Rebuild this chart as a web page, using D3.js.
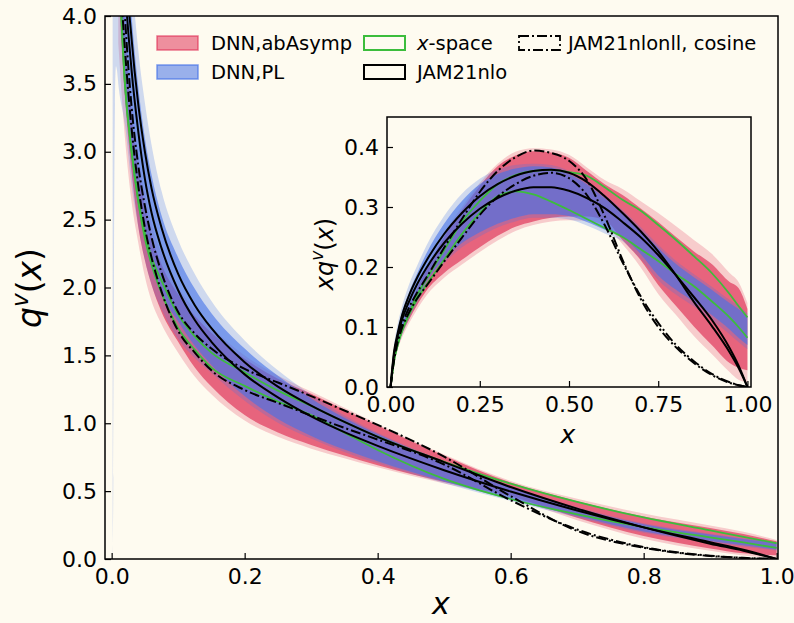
<!DOCTYPE html>
<html><head><meta charset="utf-8">
<script src="https://cdn.jsdelivr.net/npm/d3@7"></script>
<style>body{margin:0;background:#fefbf0}svg{display:block}text{font-family:"DejaVu Sans",sans-serif;fill:#000}</style>
</head><body><svg id="c" width="794" height="623"></svg>
<script>
// ---------------- main panel data: q^v(x) ----------------
const XM = [0.01,0.02,0.03,0.04,0.05,0.06,0.075,0.1,0.125,0.15,0.2,0.25,0.3,0.35,0.4,0.5,0.6,0.7,0.8,0.9,0.95,1.0];
const mRedPaleLo = [3.8,3.1,2.63,2.33,2.08,1.9,1.73,1.52,1.344,1.213,1.02,0.9,0.813,0.743,0.675,0.556,0.45,0.286,0.15,0.061,0.026,0.008];
const mRedPaleHi = [5.4,4.1,3.4,2.98,2.7,2.47,2.25,2.0,1.84,1.707,1.5,1.352,1.233,1.114,0.995,0.77,0.575,0.443,0.335,0.247,0.2,0.14];
const mRedLo = [4.2,3.4,2.85,2.45,2.2,2.02,1.82,1.6,1.41,1.27,1.06,0.932,0.84,0.763,0.69,0.568,0.463,0.303,0.169,0.078,0.042,0.028];
const mRedHi = [5.0,3.9,3.27,2.875,2.6,2.38,2.17,1.95,1.79,1.667,1.475,1.328,1.217,1.1,0.983,0.76,0.563,0.426,0.3125,0.228,0.184,0.13];
const mBlueLo = [4.4,3.5,2.95,2.6,2.35,2.15,1.95,1.75,1.57,1.43,1.2,1.032,0.907,0.806,0.72,0.57,0.437,0.317,0.203,0.133,0.101,0.07];
const mBlueHi = [6.2,4.75,4.0,3.48,3.1,2.83,2.53,2.22,1.99,1.81,1.55,1.35,1.183,1.04,0.92,0.71,0.525,0.374,0.256,0.18,0.147,0.118];
const mGreen1 = [4.5,3.5,3.0,2.65,2.4,2.22,2.05,1.8,1.64,1.52,1.375,1.24,1.127,1.009,0.9,0.716,0.555,0.42,0.306,0.211,0.163,0.116];
const mGreen2 = [4.5,3.5,3.0,2.63,2.36,2.17,1.96,1.7,1.54,1.41,1.275,1.16,1.06,0.931,0.803,0.59,0.442,0.329,0.235,0.159,0.122,0.082];
const mJam1 = [6.0,4.5,3.83,3.35,3.0,2.73,2.44,2.1,1.87,1.70,1.45,1.27,1.13,1.01,0.90,0.714,0.53,0.371,0.233,0.113,0.061,0.0];
const mJam2 = [5.5,4.25,3.6,3.15,2.8,2.55,2.29,1.98,1.76,1.6,1.36,1.19,1.05,0.934,0.833,0.654,0.497,0.357,0.233,0.124,0.068,0.0];
const mCos1 = [5.0,4.0,3.33,2.9,2.6,2.37,2.11,1.82,1.66,1.55,1.4,1.3,1.2,1.094,0.988,0.754,0.463,0.207,0.083,0.022,0.0074,0.0];
const mCos2 = [4.5,3.75,3.17,2.75,2.44,2.22,1.97,1.68,1.52,1.39,1.245,1.15,1.057,0.966,0.88,0.696,0.433,0.217,0.0875,0.024,0.0084,0.0];
// pale DNN,PL envelope (own grid, includes the thin spike near x=0)
const XMP = [0.0015,0.0025,0.0035,0.005,0.0065,0.008,0.01,0.02,0.03,0.04,0.05,0.06,0.075,0.1,0.125,0.15,0.2,0.25,0.3,0.35,0.4,0.5,0.6,0.7,0.8,0.9,0.95,1.0];
const mBluePaleLo = [0.03,0.6,2.2,3.35,3.63,3.6,3.5,3.2,2.75,2.45,2.2,2.02,1.84,1.62,1.48,1.37,1.165,1.004,0.887,0.789,0.705,0.558,0.427,0.306,0.193,0.124,0.093,0.063];
const mBluePaleHi = [9,9,9,9,9,9,7.0,5.25,4.33,3.75,3.36,3.05,2.71,2.35,2.1,1.9,1.61,1.39,1.21,1.057,0.93,0.72,0.533,0.381,0.263,0.186,0.153,0.123];

// ---------------- inset data: x q^v(x) ----------------
const XI = [0,0.01,0.02,0.03,0.05,0.075,0.1,0.15,0.2,0.25,0.3,0.35,0.4,0.45,0.5,0.55,0.6,0.65,0.7,0.75,0.8,0.85,0.9,0.95,0.975,1.0];
const iRedPaleLo = [0,0.038,0.062,0.079,0.104,0.13,0.152,0.182,0.204,0.225,0.244,0.26,0.27,0.276,0.278,0.277,0.27,0.238,0.2,0.155,0.12,0.085,0.055,0.025,0.012,0.008];
const iRedPaleHi = [0,0.054,0.082,0.102,0.135,0.17,0.2,0.256,0.3,0.34,0.372,0.392,0.398,0.396,0.387,0.366,0.345,0.33,0.31,0.29,0.268,0.245,0.222,0.19,0.175,0.14];
const iRedLo = [0,0.042,0.068,0.0855,0.11,0.137,0.16,0.19,0.212,0.233,0.252,0.267,0.276,0.282,0.284,0.284,0.278,0.245,0.212,0.17,0.135,0.101,0.07,0.04,0.032,0.028];
const iRedHi = [0,0.05,0.078,0.098,0.13,0.165,0.195,0.25,0.295,0.335,0.368,0.386,0.393,0.391,0.382,0.36,0.338,0.32,0.298,0.275,0.25,0.226,0.205,0.175,0.165,0.13];
const iBluePaleLo = [0,0.038,0.064,0.082,0.111,0.14,0.168,0.206,0.233,0.251,0.266,0.276,0.282,0.282,0.279,0.269,0.256,0.243,0.214,0.178,0.154,0.134,0.112,0.088,0.075,0.063];
const iBluePaleHi = [0,0.07,0.105,0.13,0.168,0.203,0.235,0.285,0.322,0.347,0.362,0.37,0.372,0.37,0.36,0.343,0.32,0.295,0.267,0.237,0.21,0.188,0.167,0.145,0.135,0.123];
const iBlueLo = [0,0.044,0.07,0.0885,0.1175,0.146,0.175,0.213,0.24,0.258,0.272,0.282,0.288,0.288,0.285,0.275,0.262,0.25,0.222,0.186,0.162,0.142,0.12,0.096,0.082,0.07];
const iBlueHi = [0,0.062,0.095,0.12,0.155,0.19,0.222,0.272,0.31,0.338,0.355,0.364,0.368,0.366,0.355,0.338,0.315,0.29,0.262,0.232,0.205,0.183,0.162,0.14,0.13,0.118];
const iGreen1 = [0,0.045,0.07,0.09,0.12,0.154,0.18,0.228,0.275,0.31,0.338,0.353,0.36,0.362,0.358,0.352,0.333,0.312,0.294,0.27,0.245,0.218,0.19,0.155,0.135,0.116];
const iGreen2 = [0,0.045,0.07,0.09,0.118,0.147,0.17,0.212,0.255,0.29,0.318,0.326,0.321,0.309,0.295,0.28,0.265,0.25,0.23,0.21,0.188,0.168,0.143,0.116,0.1,0.082];
const iJam1 = [0,0.06,0.09,0.115,0.15,0.183,0.21,0.255,0.29,0.318,0.338,0.352,0.36,0.362,0.357,0.342,0.318,0.29,0.26,0.226,0.186,0.142,0.102,0.058,0.032,0];
const iJam2 = [0,0.055,0.085,0.108,0.14,0.172,0.198,0.24,0.272,0.297,0.315,0.327,0.333,0.333,0.327,0.315,0.298,0.275,0.25,0.22,0.186,0.15,0.112,0.065,0.036,0];
const iCos1 = [0,0.05,0.08,0.1,0.13,0.158,0.182,0.232,0.28,0.325,0.36,0.383,0.394,0.39,0.377,0.345,0.285,0.212,0.148,0.1,0.066,0.04,0.02,0.007,0.003,0];
const iCos2 = [0,0.045,0.075,0.095,0.122,0.148,0.168,0.209,0.249,0.287,0.317,0.338,0.352,0.357,0.348,0.32,0.27,0.208,0.152,0.107,0.07,0.043,0.022,0.008,0.003,0];

// ticks
const mainXTicks = [0,0.2,0.4,0.6,0.8,1.0];
const mainYTicks = [0,0.5,1.0,1.5,2.0,2.5,3.0,3.5,4.0];
const insXTicks = [0,0.25,0.5,0.75,1.0];
const insYTicks = [0,0.1,0.2,0.3,0.4];

// legend
const legendItems = [
  {label:"DNN,abAsymp", kind:"red", col:0, row:0},
  {label:"DNN,PL", kind:"blue", col:0, row:1},
  {label:"x-space", kind:"green", col:1, row:0},
  {label:"JAM21nlo", kind:"black", col:1, row:1},
  {label:"JAM21nlonll, cosine", kind:"dashdot", col:2, row:0}
];

// ---------------- styles ----------------
const BG = "#fefbf0";
const RED = "rgb(221,35,76)";
const BLUE = "rgb(69,114,232)";
const GREEN = "#3cbd3c";
const DASH = "10,3,2,3";
const TICKFS = 22;

const svg = d3.select("#c");
svg.append("rect").attr("width",794).attr("height",623).attr("fill",BG);

function zipData(xs, a, b){ return xs.map((x,i)=>({x, lo:a[i], hi:b?b[i]:null})); }

function drawPanel(g, P){
  const {xsc, ysc} = P;
  const area = d3.area().curve(d3.curveMonotoneX).x(d=>xsc(d.x)).y0(d=>ysc(d.lo)).y1(d=>ysc(d.hi));
  const line = d3.line().curve(d3.curveMonotoneX).x(d=>xsc(d.x)).y(d=>ysc(d.lo));
  P.bands.forEach(b=>{
    g.append("path").datum(zipData(b.xs,b.lo,b.hi)).attr("d",area)
      .attr("fill",b.color).attr("fill-opacity",b.op).attr("stroke","none");
  });
  P.lines.forEach(l=>{
    g.append("path").datum(zipData(l.xs,l.v)).attr("d",line)
      .attr("fill","none").attr("stroke",l.color).attr("stroke-width",l.w)
      .attr("stroke-dasharray",l.dash||null).attr("stroke-linejoin","round");
  });
}

// ---------------- main panel ----------------
const L=105, R=778, T=16, B=559;
const mx = d3.scaleLinear().domain([-0.01,1.002]).range([L,R]);
const my = d3.scaleLinear().domain([0,4]).range([B,T]);
const defs = svg.append("defs");
defs.append("clipPath").attr("id","cm").append("rect").attr("x",L).attr("y",T).attr("width",R-L).attr("height",B-T);
const gm = svg.append("g").attr("clip-path","url(#cm)");
drawPanel(gm, {xsc:mx, ysc:my,
  bands:[
    {xs:XM, lo:mRedPaleLo, hi:mRedPaleHi, color:RED, op:0.22},
    {xs:XM, lo:mRedLo, hi:mRedHi, color:RED, op:0.62},
    {xs:XMP, lo:mBluePaleLo, hi:mBluePaleHi, color:BLUE, op:0.25},
    {xs:XM, lo:mBlueLo, hi:mBlueHi, color:BLUE, op:0.62}
  ],
  lines:[
    {xs:XM, v:mGreen1, color:GREEN, w:1.8},
    {xs:XM, v:mGreen2, color:GREEN, w:1.8},
    {xs:XM, v:mJam1, color:"#000", w:2},
    {xs:XM, v:mJam2, color:"#000", w:2},
    {xs:XM, v:mCos1, color:"#000", w:2, dash:DASH},
    {xs:XM, v:mCos2, color:"#000", w:2, dash:DASH}
  ]});

function axes(g, xsc, ysc, xt, yt, xfmt, yfmt, fs, box){
  const ax = g.append("g").attr("transform",`translate(0,${box.B})`)
    .call(d3.axisBottom(xsc).tickValues(xt).tickFormat(d3.format(xfmt)).tickSizeInner(-6).tickSizeOuter(0).tickPadding(9));
  const ay = g.append("g").attr("transform",`translate(${box.L},0)`)
    .call(d3.axisLeft(ysc).tickValues(yt).tickFormat(d3.format(yfmt)).tickSizeInner(-6).tickSizeOuter(0).tickPadding(8));
  [ax,ay].forEach(a=>{
    a.select(".domain").remove();
    a.selectAll(".tick line").attr("stroke","#000").attr("stroke-width",1.2);
    a.selectAll(".tick text").attr("font-size",fs).attr("font-family","DejaVu Sans").attr("fill","#000");
  });
  g.append("rect").attr("x",box.L).attr("y",box.T).attr("width",box.R-box.L).attr("height",box.B-box.T)
    .attr("fill","none").attr("stroke","#000").attr("stroke-width",1.5);
}
axes(svg, mx, my, mainXTicks, mainYTicks, ".1f", ".1f", TICKFS, {L,R,T,B});

// main labels
const yl = svg.append("text").attr("transform","translate(41,288) rotate(-90)").attr("text-anchor","middle").attr("font-size",33);
yl.append("tspan").attr("font-style","italic").text("q");
yl.append("tspan").attr("font-style","italic").attr("font-size",23).attr("dy",-13).text("v");
yl.append("tspan").attr("dy",13).text("(");
yl.append("tspan").attr("font-style","italic").text("x");
yl.append("tspan").text(")");
svg.append("text").attr("x",441).attr("y",614).attr("text-anchor","middle").attr("font-size",30).attr("font-style","italic").text("x");

// ---------------- legend ----------------
const LFS = 19.5;
const colX = [157,364,519], colTX=[211,417,568], rowY=[36,65];
const lg = svg.append("g");
legendItems.forEach(it=>{
  const x=colX[it.col], y=rowY[it.row];
  const r = lg.append("rect").attr("x",x).attr("y",y).attr("width",41).attr("height",14);
  if(it.kind==="red") r.attr("fill",RED).attr("fill-opacity",0.5).attr("stroke",RED).attr("stroke-opacity",0.6).attr("stroke-width",1.5);
  else if(it.kind==="blue") r.attr("fill",BLUE).attr("fill-opacity",0.55).attr("stroke",BLUE).attr("stroke-opacity",0.7).attr("stroke-width",1.5);
  else if(it.kind==="green") r.attr("fill","none").attr("stroke",GREEN).attr("stroke-width",2);
  else if(it.kind==="black") r.attr("fill","none").attr("stroke","#000").attr("stroke-width",2);
  else r.attr("fill","none").attr("stroke","#000").attr("stroke-width",1.8).attr("stroke-dasharray",DASH);
  const t = lg.append("text").attr("x",colTX[it.col]).attr("y",y+14).attr("font-size",LFS);
  if(it.kind==="green"){ t.append("tspan").attr("font-style","italic").text("x"); t.append("tspan").text("-space"); }
  else t.text(it.label);
});

// ---------------- inset ----------------
const IL=387, IR=751, IT=117, IB=387;
const ix = d3.scaleLinear().domain([-0.01,1.01]).range([IL,IR]);
const iy = d3.scaleLinear().domain([0,0.45]).range([IB,IT]);
svg.append("rect").attr("x",IL).attr("y",IT).attr("width",IR-IL).attr("height",IB-IT).attr("fill",BG);
defs.append("clipPath").attr("id","ci").append("rect").attr("x",IL).attr("y",IT).attr("width",IR-IL).attr("height",IB-IT);
const gi = svg.append("g").attr("clip-path","url(#ci)");
drawPanel(gi, {xsc:ix, ysc:iy,
  bands:[
    {xs:XI, lo:iRedPaleLo, hi:iRedPaleHi, color:RED, op:0.22},
    {xs:XI, lo:iRedLo, hi:iRedHi, color:RED, op:0.62},
    {xs:XI, lo:iBluePaleLo, hi:iBluePaleHi, color:BLUE, op:0.25},
    {xs:XI, lo:iBlueLo, hi:iBlueHi, color:BLUE, op:0.62}
  ],
  lines:[
    {xs:XI, v:iGreen1, color:GREEN, w:1.8},
    {xs:XI, v:iGreen2, color:GREEN, w:1.8},
    {xs:XI, v:iJam1, color:"#000", w:2},
    {xs:XI, v:iJam2, color:"#000", w:2},
    {xs:XI, v:iCos1, color:"#000", w:2, dash:DASH},
    {xs:XI, v:iCos2, color:"#000", w:2, dash:DASH}
  ]});
axes(svg, ix, iy, insXTicks, insYTicks, ".2f", ".1f", TICKFS, {L:IL,R:IR,T:IT,B:IB});

const il = svg.append("text").attr("transform","translate(333,254) rotate(-90)").attr("text-anchor","middle").attr("font-size",24);
il.append("tspan").attr("font-style","italic").text("xq");
il.append("tspan").attr("font-style","italic").attr("font-size",17).attr("dy",-10).text("v");
il.append("tspan").attr("dy",10).text("(");
il.append("tspan").attr("font-style","italic").text("x");
il.append("tspan").text(")");
svg.append("text").attr("x",568).attr("y",443).attr("text-anchor","middle").attr("font-size",25).attr("font-style","italic").text("x");
</script></body></html>
